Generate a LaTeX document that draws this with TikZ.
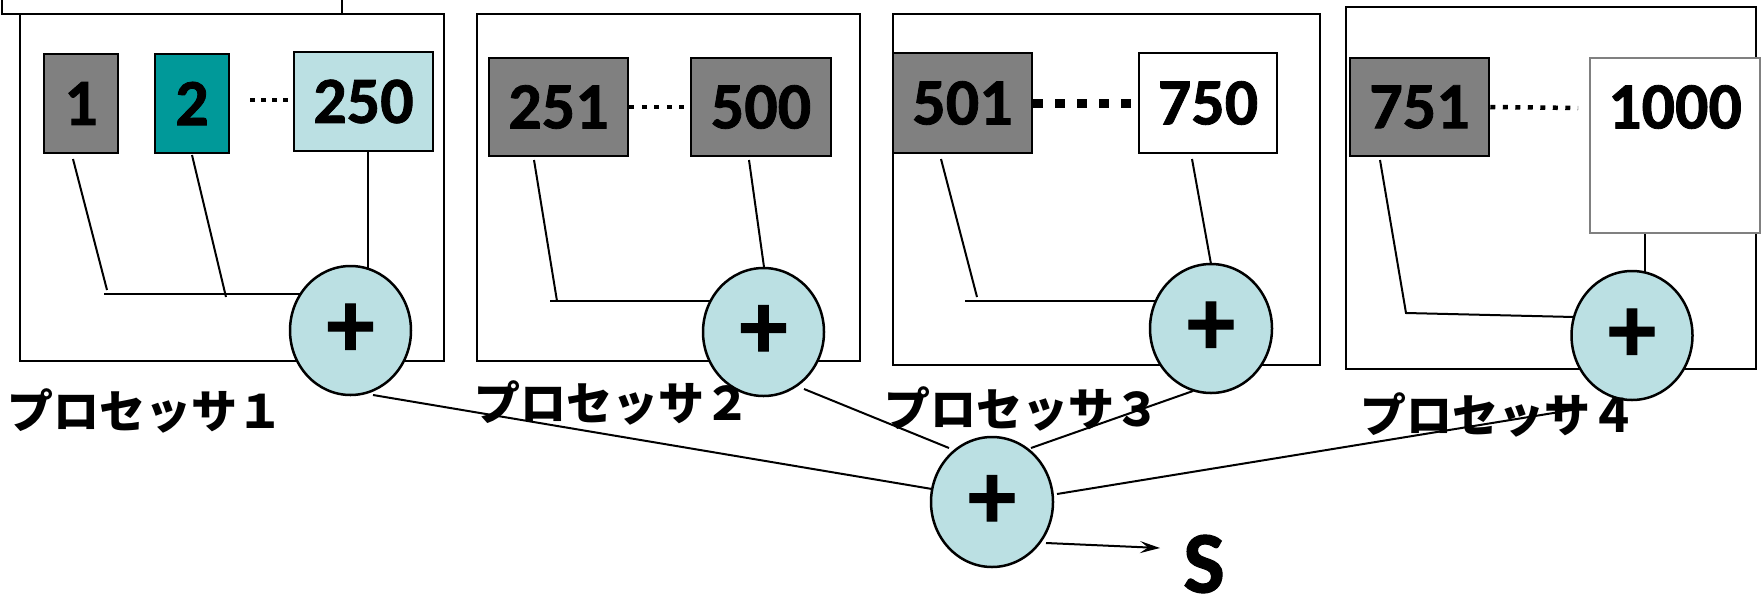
\documentclass[tikz,border=0pt]{standalone}
\usepackage{fontspec}
\setmainfont{Carlito}
\newfontfamily\numfont{Carlito Bold}[FakeBold=1.2]
\newfontfamily\jp{Noto Sans CJK JP}
\usetikzlibrary{shapes.geometric,backgrounds,arrows.meta}
\definecolor{grayfill}{HTML}{808080}
\definecolor{tealfill}{HTML}{009999}
\definecolor{lightfill}{HTML}{BBE0E3}
\begin{document}
\begin{tikzpicture}[x=1pt,y=-1pt,
  procbox/.style={rectangle, draw=black, line width=2.5pt, inner sep=0},
  numbox/.style={rectangle, draw=black, line width=2.5pt, inner sep=0, font=\numfont\fontsize{66}{70}\selectfont},
  adder/.style={ellipse, draw=black, line width=2.5pt, fill=lightfill, inner sep=0, font=\numfont\fontsize{96}{96}\selectfont},
  wire/.style={line width=2pt},
  smalldots/.style={line width=4.5pt, dash pattern=on 5pt off 7.5pt},
  bigdots/.style={line width=9pt, dash pattern=on 10pt off 12pt},
  plabel/.style={font=\jp\bfseries\fontsize{46}{50}\selectfont, anchor=base west, inner sep=0}
]
\useasboundingbox (0,0) rectangle (1764,600);

% partial box top-left
\draw[line width=2.5pt] (2,-5) -- (2,14) -- (342,14) -- (342,-5);

% processor boxes
\node[procbox, minimum width=424pt, minimum height=347pt] (p1) at (232,187.5) {};
\node[procbox, minimum width=383pt, minimum height=347pt] (p2) at (668.5,187.5) {};
\node[procbox, minimum width=427pt, minimum height=351pt] (p3) at (1106.5,189.5) {};
\node[procbox, minimum width=410pt, minimum height=362pt] (p4) at (1551,188) {};

% number boxes
\node[numbox, fill=grayfill, minimum width=74pt, minimum height=99pt] (n1) at (81,103.5) {1};
\node[numbox, fill=tealfill, minimum width=74pt, minimum height=99pt] (n2) at (192,103.5) {2};
\node[numbox, fill=lightfill, minimum width=139pt, minimum height=99pt] (n250) at (363.5,101.5) {250};
\node[numbox, fill=grayfill, minimum width=139pt, minimum height=98pt] (n251) at (558.5,107) {251};
\node[numbox, fill=grayfill, minimum width=140pt, minimum height=98pt] (n500) at (761,107) {500};
\node[numbox, fill=grayfill, minimum width=139pt, minimum height=100pt] (n501) at (962.5,103) {501};
\node[numbox, fill=white, minimum width=138pt, minimum height=100pt] (n750) at (1208,103) {750};
\node[numbox, fill=grayfill, minimum width=139pt, minimum height=98pt] (n751) at (1419.5,107) {751};
\node[numbox, draw=grayfill, fill=white, minimum width=170pt, minimum height=175pt] (n1000) at (1675,145.5) {};
\node[font=\numfont\fontsize{66}{70}\selectfont, inner sep=0] (t1000) at (1675,107) {1000};

% dotted links
\coordinate (d1a) at (250,100);
\coordinate (d1b) at (288,100);
\draw[line width=4.5pt, dash pattern=on 5pt off 6pt] (d1a) -- (d1b);
\draw[smalldots] (n251.east) -- (n500.west);
\draw[bigdots] (n501.east) -- (n750.west);
\coordinate (d4b) at (1578,108);
\draw[smalldots] (n751.east) -- (d4b);

% adders
\node[adder, minimum width=121pt, minimum height=129pt] (c1) at (350.5,330.5) {\raisebox{-7pt}{+}};
\node[adder, minimum width=121pt, minimum height=128pt] (c2) at (763.5,332) {\raisebox{-7pt}{+}};
\node[adder, minimum width=122pt, minimum height=129pt] (c3) at (1211,328.5) {\raisebox{-7pt}{+}};
\node[adder, minimum width=121pt, minimum height=129pt] (c4) at (1632,335.5) {\raisebox{-7pt}{+}};
\node[adder, minimum width=122pt, minimum height=130pt] (cs) at (992,502) {\raisebox{-7pt}{+}};

% labels
\node[plabel] (l1) at (7,428) {プロセッサ１};
\node[plabel] (l2) at (474,420) {プロセッサ２};
\node[plabel] (l3) at (884,426) {プロセッサ３};
\node[plabel] (l4) at (1360,432) {プロセッサ４};

\node[font=\numfont\fontsize{88}{90}\selectfont, inner sep=0] (S) at (1204,564) {S};

% connectors
\coordinate (a1) at (73,159);   \coordinate (b1) at (107,290);
\coordinate (a2) at (192,155);  \coordinate (b2) at (226,297);
\coordinate (h1) at (104,294);
\coordinate (v1) at (368,148);
\coordinate (a3) at (534,160);  \coordinate (b3) at (557,301);
\coordinate (h2) at (550,301);
\coordinate (a4) at (749,160);  \coordinate (b4) at (764,267);
\coordinate (a5) at (941,159);  \coordinate (b5) at (977,297);
\coordinate (h3) at (965,301);
\coordinate (a6) at (1192,159); \coordinate (b6) at (1211,264);
\coordinate (a7) at (1380,160); \coordinate (b7) at (1406,313);
\coordinate (b8) at (1574,317);
\coordinate (a9) at (1645,163);
\coordinate (o1) at (373,395);  \coordinate (i1) at (932,489);
\coordinate (o2) at (804,389);  \coordinate (i2) at (949,448);
\coordinate (o3) at (1193,391); \coordinate (i3) at (1031,448);
\coordinate (o4) at (1584,408); \coordinate (i4) at (1057,494);
\coordinate (sa) at (1046,543); \coordinate (sb) at (1160,548);
\begin{scope}[on background layer]
  \draw[wire] (a1) -- (b1);
  \draw[wire] (a2) -- (b2);
  \draw[wire] (h1) -- (h1 -| c1.center);
  \draw[wire] (v1) -- (v1 |- c1.center);
  \draw[wire] (a3) -- (b3);
  \draw[wire] (h2) -- (h2 -| c2.center);
  \draw[wire] (a4) -- (b4);
  \draw[wire] (a5) -- (b5);
  \draw[wire] (h3) -- (h3 -| c3.center);
  \draw[wire] (a6) -- (b6);
  \draw[wire] (a7) -- (b7) -- (b8);
  \draw[wire] (a9) -- (a9 |- c4.center);
  \draw[wire] (o1) -- (i1);
  \draw[wire] (o2) -- (i2);
  \draw[wire] (o3) -- (i3);
  \draw[wire] (o4) -- (i4);
\end{scope}
\draw[wire, -{Stealth[length=20pt,width=12pt,inset=8pt]}] (sa) -- (sb);
\end{tikzpicture}
\end{document}
